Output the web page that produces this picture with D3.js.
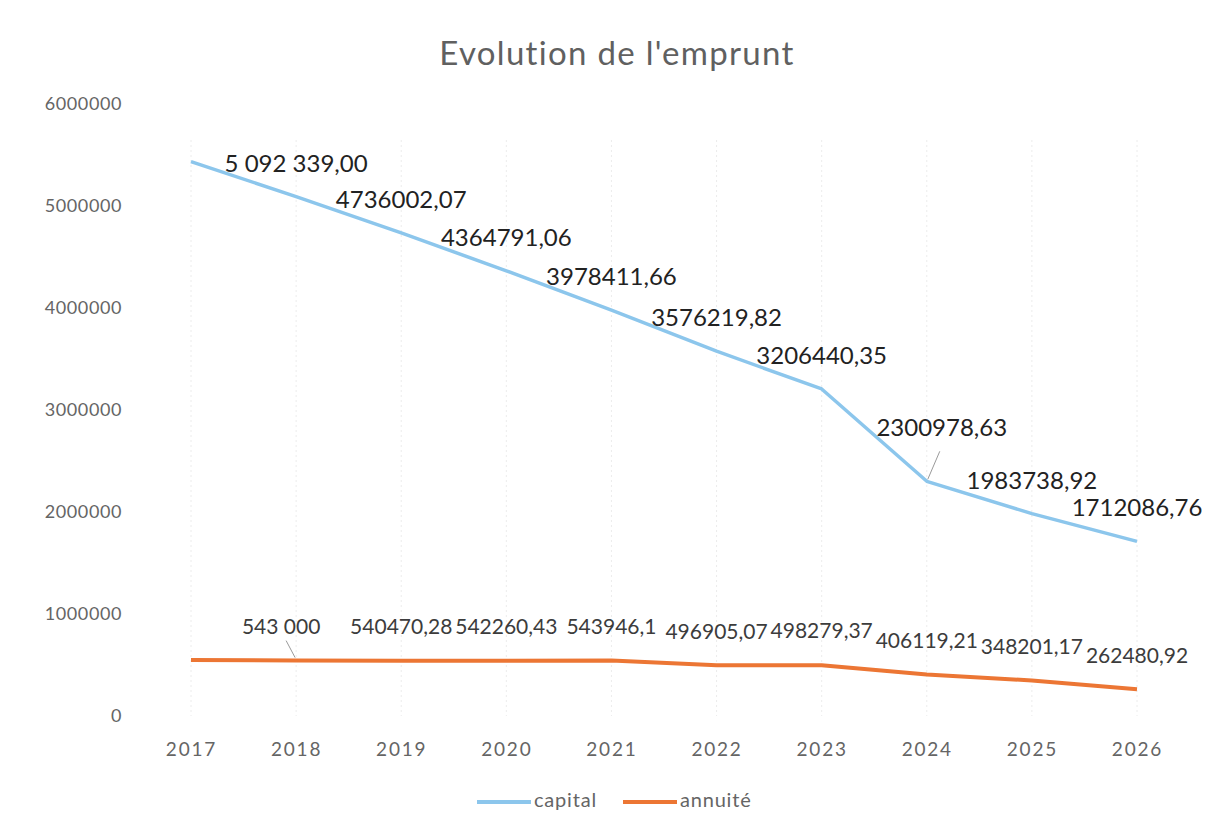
<!DOCTYPE html>
<html>
<head>
<meta charset="utf-8">
<script src="https://cdn.jsdelivr.net/npm/d3@7"></script>
<style>
  body { margin: 0; background: #fff; }
  svg { display: block; font-family: Lato, "Open Sans", sans-serif; }
</style>
</head>
<body>
<div id="chart"></div>
<script>
// data (2017 points have no label, values estimated from the line)
const years = ['2017', '2018', '2019', '2020', '2021', '2022', '2023', '2024', '2025', '2026'];
const capital = [5435000, 5092339.00, 4736002.07, 4364791.06, 3978411.66, 3576219.82, 3206440.35, 2300978.63, 1983738.92, 1712086.76];
const annuite = [550000, 543000, 540470.28, 542260.43, 543946.1, 496905.07, 498279.37, 406119.21, 348201.17, 262480.92];
const capitalLabels = [null, '5 092 339,00', '4736002,07', '4364791,06', '3978411,66', '3576219,82', '3206440,35', '2300978,63', '1983738,92', '1712086,76'];
const annuiteLabels = [null, '543 000', '540470,28', '542260,43', '543946,1', '496905,07', '498279,37', '406119,21', '348201,17', '262480,92'];
const yTicks = [0, 1000000, 2000000, 3000000, 4000000, 5000000, 6000000];

const W = 1220, H = 837;
const blue = '#8cc6ec', orange = '#ec7634';
const grey = '#656565';

const svg = d3.select('#chart').append('svg').attr('width', W).attr('height', H);

const x = d3.scalePoint().domain(years).range([191, 1137]);
const y = d3.scaleLinear().domain([0, 6000000]).range([716, 104]);

// faint vertical gridlines at each category
svg.append('g').selectAll('line').data(years).join('line')
  .attr('x1', d => x(d)).attr('x2', d => x(d))
  .attr('y1', 140).attr('y2', 716)
  .attr('stroke', '#ececec').attr('stroke-width', 1)
  .attr('stroke-dasharray', '2,3');

// title
svg.append('text')
  .attr('x', 617).attr('y', 57)
  .attr('text-anchor', 'middle').attr('dominant-baseline', 'middle')
  .attr('font-size', 33).attr('letter-spacing', 1.3).attr('fill', '#606060')
  .text("Evolution de l'emprunt");

// y axis (labels only)
const yAxis = svg.append('g').attr('transform', 'translate(130,0)')
  .call(d3.axisLeft(y).tickValues(yTicks).tickFormat(d3.format('d')).tickSize(0).tickPadding(8));
yAxis.select('.domain').remove();
yAxis.selectAll('text').attr('font-size', 18).attr('letter-spacing', 0.6)
  .attr('fill', grey).attr('font-family', 'Lato');

// x axis (labels only)
const xAxis = svg.append('g').attr('transform', 'translate(0,733)')
  .call(d3.axisBottom(x).tickSize(0).tickPadding(10));
xAxis.select('.domain').remove();
xAxis.selectAll('text').attr('font-size', 19).attr('letter-spacing', 1.8)
  .attr('fill', grey).attr('font-family', 'Lato');

const line = d3.line().x((d, i) => x(years[i])).y(d => y(d));

svg.append('path').datum(annuite)
  .attr('d', line).attr('fill', 'none')
  .attr('stroke', orange).attr('stroke-width', 4).attr('stroke-linejoin', 'round');

svg.append('path').datum(capital)
  .attr('d', line).attr('fill', 'none')
  .attr('stroke', blue).attr('stroke-width', 3.5).attr('stroke-linejoin', 'round');

// capital data labels
const capG = svg.append('g');
capitalLabels.forEach((lab, i) => {
  if (!lab) return;
  const px = x(years[i]), py = y(capital[i]);
  let lx = px, ly = py - 31;
  if (i === 7) { // moved label with leader line
    lx = px + 15; ly = py - 51;
    capG.append('line').attr('x1', px + 1).attr('y1', py - 2).attr('x2', px + 13).attr('y2', py - 30)
      .attr('stroke', '#9a9a9a').attr('stroke-width', 1);
  }
  capG.append('text').attr('x', lx).attr('y', ly)
    .attr('text-anchor', 'middle').attr('dominant-baseline', 'middle')
    .attr('font-size', 24).attr('fill', '#222')
    .text(lab);
});

// annuite data labels
const annG = svg.append('g');
annuiteLabels.forEach((lab, i) => {
  if (!lab) return;
  const px = x(years[i]), py = y(annuite[i]);
  let lx = px, ly = py - 32;
  if (i === 1) {
    lx = px - 15;
    annG.append('line').attr('x1', px - 10).attr('y1', py - 20).attr('x2', px - 1).attr('y2', py - 3)
      .attr('stroke', '#9a9a9a').attr('stroke-width', 1);
  }
  annG.append('text').attr('x', lx).attr('y', ly)
    .attr('text-anchor', 'middle').attr('dominant-baseline', 'middle')
    .attr('font-size', 21).attr('fill', '#3c3c3c')
    .text(lab);
});

// legend
const legend = [{ name: 'capital', color: blue, x: 477 }, { name: 'annuité', color: orange, x: 623 }];
const lg = svg.append('g').selectAll('g').data(legend).join('g')
  .attr('transform', d => `translate(${d.x},802)`);
lg.append('line').attr('x1', 0).attr('x2', 54).attr('y1', 0).attr('y2', 0)
  .attr('stroke', d => d.color).attr('stroke-width', 4);
lg.append('text').attr('x', 57).attr('y', 0).attr('dominant-baseline', 'middle')
  .attr('font-size', 20).attr('letter-spacing', 0.8).attr('fill', grey).text(d => d.name);
</script>
</body>
</html>
